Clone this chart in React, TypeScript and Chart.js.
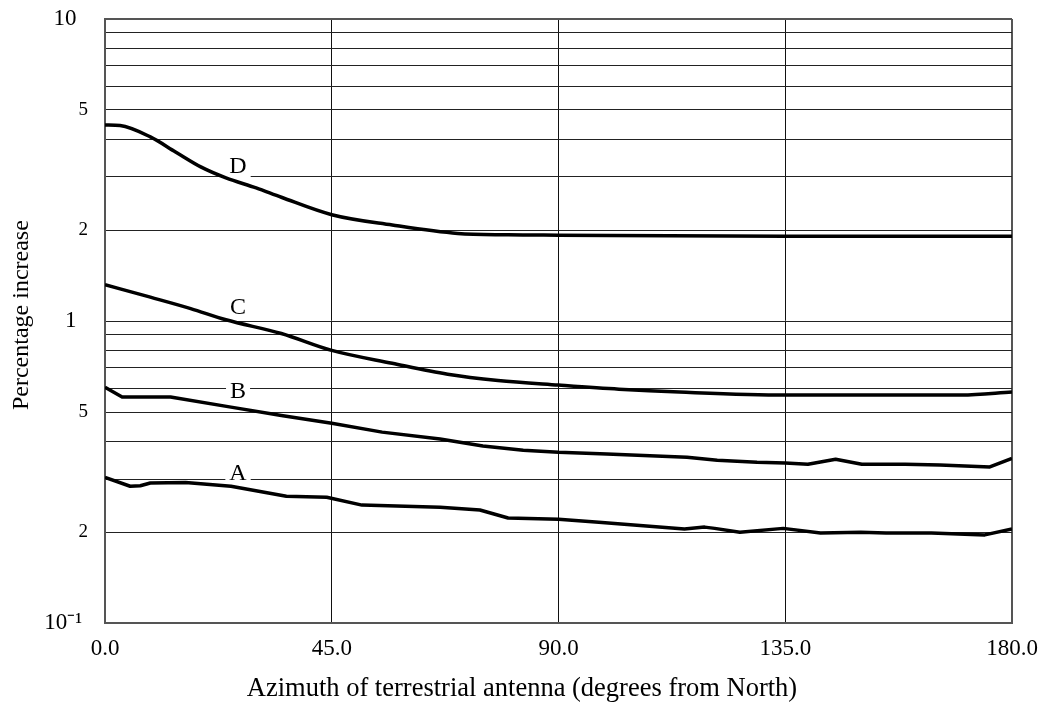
import React, { useEffect, useRef } from "react";
import { Chart, registerables } from "chart.js";

Chart.register(...registerables);

// ---------- data ----------
const curveNames = ["A", "B", "C", "D"];

const azA = [0, 5, 7, 9, 16, 25, 36, 44, 51, 66.5, 74.4, 80, 90, 98, 115, 119, 121, 126, 134.6, 142, 150, 155, 164, 174.6, 180];
const valA = [0.304, 0.284, 0.285, 0.291, 0.292, 0.284, 0.263, 0.261, 0.246, 0.242, 0.237, 0.223, 0.221, 0.216, 0.205, 0.208, 0.206, 0.2, 0.206, 0.199, 0.2, 0.199, 0.199, 0.196, 0.205];

const azB = [0, 3.4, 13, 25, 35, 45, 55, 66.5, 75, 83, 90, 99.6, 115.5, 121.5, 129.4, 135, 139.5, 145, 150.2, 158.8, 165.7, 175.6, 180];
const valB = [0.604, 0.561, 0.561, 0.519, 0.487, 0.459, 0.429, 0.407, 0.386, 0.374, 0.368, 0.363, 0.3545, 0.3465, 0.341, 0.339, 0.336, 0.349, 0.336, 0.336, 0.334, 0.329, 0.351];

const azC = [0, 9, 17, 24, 35, 45, 57, 68, 78, 90, 102, 114, 135, 170, 180];
const valC = [1.32, 1.2, 1.1, 1.01, 0.91, 0.8, 0.725, 0.667, 0.636, 0.614, 0.595, 0.582, 0.569, 0.569, 0.582];

const azD = [0, 3, 9, 14, 19, 24, 30, 35, 45, 57, 70, 80, 90, 135, 180];
const valD = [4.46, 4.44, 4.07, 3.63, 3.24, 2.98, 2.76, 2.57, 2.25, 2.08, 1.95, 1.93, 1.925, 1.91, 1.91];

// curve label anchors (A, B, C, D)
const labelAz = [26.4, 26.4, 26.4, 26.4];
const labelVal = [0.314, 0.587, 1.12, 3.26];

// axes
const xTickValues = [0, 45, 90, 135, 180];
const yGridValues = [0.1, 0.2, 0.3, 0.4, 0.5, 0.6, 0.7, 0.8, 0.9, 1, 2, 3, 4, 5, 6, 7, 8, 9, 10];
const yLabelValues = [0.1, 0.2, 0.5, 1, 2, 5, 10];
const yLabelTexts = ["10\u207B\u00B9 ", "2", "5", "1  ", "2", "5", "10  "];
const yMajorValues = [0.1, 1, 10];

const xTitle = "Azimuth of terrestrial antenna (degrees from North)";
const yTitle = "  Percentage increase";

const FONT = '"Liberation Serif", "Times New Roman", serif';

const near = (a: number, b: number) => Math.abs(a - b) < 1e-6 * Math.max(1, Math.abs(b));

const curveLabelPlugin = {
  id: "curveLabels",
  beforeDatasetsDraw(chart: any) {
    const { ctx, scales } = chart;
    ctx.save();
    ctx.font = `24px ${FONT}`;
    ctx.textAlign = "center";
    ctx.textBaseline = "middle";
    curveNames.forEach((name, i) => {
      const px = scales.x.getPixelForValue(labelAz[i]);
      const py = scales.y.getPixelForValue(labelVal[i]);
      const w = ctx.measureText(name).width;
      ctx.fillStyle = "#fff";
      ctx.fillRect(px - w / 2 - 4, py - 11, w + 8, 22);
      ctx.fillStyle = "#000";
      ctx.fillText(name, px, py + 1);
    });
    ctx.restore();
  },
};

export default function App() {
  const canvasRef = useRef<HTMLCanvasElement | null>(null);

  useEffect(() => {
    if (!canvasRef.current) return;
    Chart.defaults.color = "#000";
    Chart.defaults.font.family = FONT;

    const series = [
      { az: azA, val: valA, mono: false },
      { az: azB, val: valB, mono: false },
      { az: azC, val: valC, mono: true },
      { az: azD, val: valD, mono: true },
    ];

    const chart = new Chart(canvasRef.current, {
      type: "line",
      data: {
        datasets: series.map((s, i) => ({
          label: curveNames[i],
          data: s.az.map((a, j) => ({ x: a, y: s.val[j] })),
          borderColor: "#000",
          borderWidth: 3.5,
          pointRadius: 0,
          fill: false,
          tension: 0,
          cubicInterpolationMode: s.mono ? "monotone" : "default",
          borderJoinStyle: "round",
          borderCapStyle: "butt",
        })),
      },
      options: {
        animation: false,
        responsive: true,
        maintainAspectRatio: false,
        layout: { padding: { top: 19, right: 0, left: 0, bottom: 0 } },
        plugins: {
          legend: { display: false },
          tooltip: { enabled: false },
          title: {
            display: true,
            position: "bottom",
            text: xTitle,
            color: "#000",
            font: { size: 26.5, family: FONT, weight: "normal" },
            padding: { top: 0, bottom: 1 },
          },
        },
        scales: {
          x: {
            type: "linear",
            min: 0,
            max: 180,
            afterBuildTicks: (scale: any) => {
              scale.ticks = xTickValues.map((v) => ({ value: v }));
            },
            afterFit: (scale: any) => {
              scale.height = 50;
              scale.paddingLeft = 0;
              scale.paddingRight = 32;
            },
            ticks: {
              autoSkip: false,
              maxRotation: 0,
              padding: 12,
              font: { size: 23, family: FONT },
              color: "#000",
              callback: (v: any) => Number(v).toFixed(1),
            },
            grid: {
              drawTicks: false,
              color: (ctx: any) => (ctx.tick && (ctx.tick.value === 0 || ctx.tick.value === 180) ? "#555" : "#111"),
              lineWidth: (ctx: any) => (ctx.tick && (ctx.tick.value === 0 || ctx.tick.value === 180) ? 2 : 1),
            },
            border: { display: true, color: "#555", width: 2 },
          },
          y: {
            type: "logarithmic",
            min: 0.1,
            max: 10,
            afterBuildTicks: (scale: any) => {
              scale.ticks = yGridValues.map((v) => ({ value: v }));
            },
            afterFit: (scale: any) => {
              scale.width = 105;
              scale.paddingTop = 0;
              scale.paddingBottom = 0;
            },
            ticks: {
              autoSkip: false,
              padding: 17,
              color: "#000",
              font: (ctx: any) => {
                const v = ctx.tick ? ctx.tick.value : 0;
                const major = yMajorValues.some((m) => near(v, m));
                return { size: major ? 23 : 19, family: FONT };
              },
              callback: (v: any) => {
                const idx = yLabelValues.findIndex((m) => near(Number(v), m));
                return idx >= 0 ? yLabelTexts[idx] : "";
              },
            },
            grid: {
              drawTicks: false,
              color: (ctx: any) => (ctx.tick && (near(ctx.tick.value, 10) || near(ctx.tick.value, 0.1)) ? "#555" : "#222"),
              lineWidth: (ctx: any) => (ctx.tick && (near(ctx.tick.value, 10) || near(ctx.tick.value, 0.1)) ? 2 : 1),
            },
            border: { display: true, color: "#555", width: 2 },
            title: {
              display: true,
              text: yTitle,
              font: { size: 24, family: FONT },
              color: "#000",
              padding: { top: 7, bottom: 0 },
            },
          },
        },
      } as any,
      plugins: [curveLabelPlugin],
    });

    return () => chart.destroy();
  }, []);

  return (
    <div style={{ position: "absolute", left: 0, top: 0, width: 1044, height: 706 }}>
      <canvas ref={canvasRef} />
    </div>
  );
}
